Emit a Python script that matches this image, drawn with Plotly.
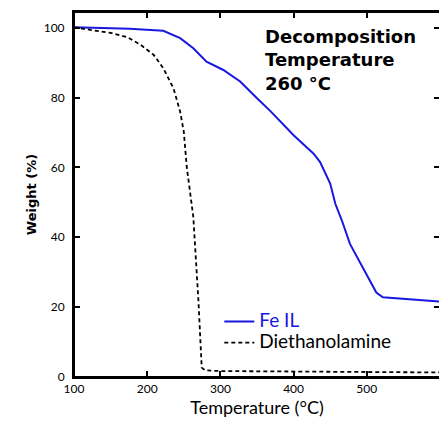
import plotly.graph_objects as go

fe_temp = [100, 176, 222, 245, 263, 281, 304, 327, 350, 368, 400, 427, 436, 450, 457, 466, 477, 486, 500, 513, 522, 540, 559, 580, 600]
fe_weight = [100.1, 99.7, 99.1, 97.0, 94.1, 90.3, 87.9, 84.6, 79.8, 76.2, 69.2, 64.0, 61.6, 55.4, 49.6, 44.8, 38.1, 34.7, 29.5, 24.2, 22.8, 22.5, 22.3, 22.0, 21.6]

dea_temp = [100, 123, 150, 173, 191, 209, 222, 236, 245, 250, 254, 263, 270, 274.5, 279, 300, 400, 500, 600]
dea_weight = [100.1, 99.4, 98.5, 97.3, 95.1, 92.2, 88.4, 82.6, 76.0, 70.2, 60.2, 45.8, 21.8, 2.7, 1.9, 1.7, 1.5, 1.4, 1.3]

x_ticks = [100, 200, 300, 400, 500, 600]
y_ticks = [0, 20, 40, 60, 80, 100]

font_family = "Lato, 'Open Sans', sans-serif"
bold_family = "'DejaVu Sans', sans-serif"
blue = "#1818e0"

fig = go.Figure()
fig.add_trace(go.Scatter(
    x=fe_temp, y=fe_weight, mode="lines",
    name="<span style='color:%s;font-size:19px'>Fe IL</span>" % blue,
    line=dict(color=blue, width=2),
))
fig.add_trace(go.Scatter(
    x=dea_temp, y=dea_weight, mode="lines",
    name="<span style='font-size:19px'>Diethanolamine</span>",
    line=dict(color="black", width=1.8, dash="4px,3px"),
))

axis_common = dict(
    showline=True, linecolor="black", linewidth=2, mirror="ticks",
    ticks="inside", ticklen=6, tickwidth=1.5, tickcolor="black",
    showgrid=False, zeroline=False, automargin=False,
    tickfont=dict(family=font_family, size=12, color="black"),
)

fig.update_layout(
    width=439, height=416,
    margin=dict(l=66, r=7, t=4, b=47),
    paper_bgcolor="white", plot_bgcolor="white",
    font=dict(family=font_family, color="black"),
    xaxis=dict(range=[100, 600], tickvals=x_ticks,
               title=dict(text="Temperature (°C)", font=dict(size=18, family=font_family), standoff=6),
               **axis_common),
    yaxis=dict(range=[0, 104.5], tickvals=y_ticks, ticklabelstandoff=5,
               title=dict(text="<b>Weight (%)</b>", font=dict(size=13, family=bold_family), standoff=4),
               **axis_common),
    legend=dict(x=0.397, y=0.195, xanchor="left", yanchor="top",
                bgcolor="rgba(0,0,0,0)", font=dict(size=14, family=font_family),
                itemwidth=30, tracegroupgap=0),
    showlegend=True,
    shapes=[dict(type="rect", xref="paper", yref="paper", x0=0, y0=0, x1=1, y1=1,
                 line=dict(color="black", width=2), layer="above")],
    annotations=[dict(
        x=0.516, y=0.967, xref="paper", yref="paper", xanchor="left", yanchor="top",
        text="<b>Decomposition<br>Temperature<br>260 °C</b>", showarrow=False, align="left",
        font=dict(size=18, family=bold_family, color="black"),
    )],
)

fig.write_html("out.html")
